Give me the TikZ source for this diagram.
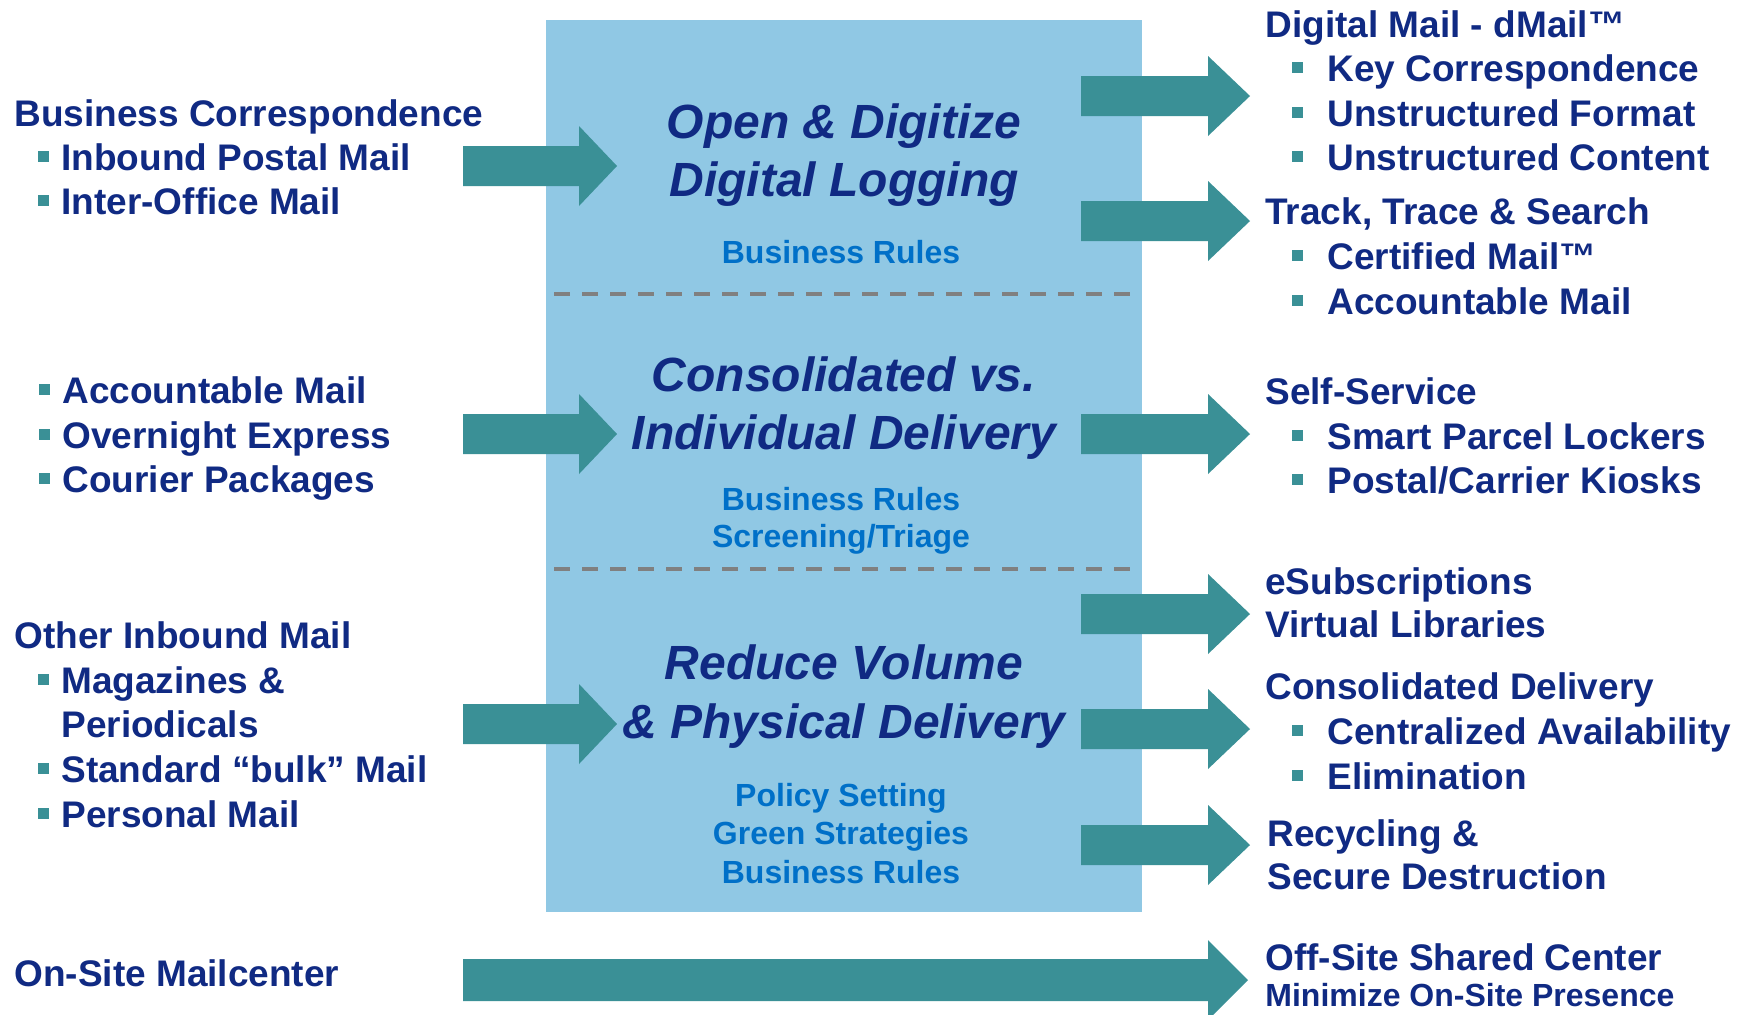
\documentclass[tikz,border=0pt]{standalone}
\usepackage{fontspec}
\setmainfont{Liberation Sans}
\definecolor{navy}{RGB}{16,42,131}
\definecolor{teal0}{RGB}{58,144,150}
\definecolor{boxblue}{RGB}{144,200,228}
\definecolor{subblue}{RGB}{0,112,200}
\definecolor{dashgray}{RGB}{128,128,128}
\newcommand\mybul[1]{\llap{\textcolor{teal0}{\rule[4pt]{5.5pt}{5.5pt}}\hspace{#1}}}
\newcommand\blockarrow[5]{% x start, x head base, x tip, y centre, body half height
  \fill[teal0] (#1,#4-#5) -- (#2,#4-#5) -- (#2,#4-40) -- (#3,#4) -- (#2,#4+40) -- (#2,#4+#5) -- (#1,#4+#5) -- cycle;}
\begin{document}
\begin{tikzpicture}[x=0.5pt,y=-0.5pt,
  lbl/.style={anchor=base west, inner sep=0pt, font=\fontsize{18.5}{22}\selectfont\bfseries, text=navy},
  lbls/.style={anchor=base west, inner sep=0pt, font=\fontsize{16}{19}\selectfont\bfseries, text=navy},
  ttl/.style={anchor=base, inner sep=0pt, font=\fontsize{24}{28}\selectfont\bfseries\itshape, text=navy},
  sub/.style={anchor=base, inner sep=0pt, font=\fontsize{16}{19}\selectfont\bfseries, text=subblue},
  sep/.style={draw=dashgray, line width=2pt, dash pattern=on 8pt off 6pt}]
\useasboundingbox[fill=white] (0,0) rectangle (1748,1014);
% central box
\fill[boxblue] (546,20) rectangle (1142,912);
\coordinate (s1a) at (554,294); \coordinate (s1b) at (1132,294);
\coordinate (s2a) at (554,569); \coordinate (s2b) at (1132,569);
\draw[sep] (s1a) -- (s1b);
\draw[sep] (s2a) -- (s2b);
% centre texts
\node[ttl] (t1a) at (844,138) {Open \& Digitize};
\node[ttl] (t1b) at (844,196) {Digital Logging};
\node[sub] (r1a) at (841,263) {Business Rules};
\node[ttl] (t2a) at (844,391) {Consolidated vs.};
\node[ttl] (t2b) at (844,449) {Individual Delivery};
\node[sub] (r2a) at (841,510) {Business Rules};
\node[sub] (r2b) at (841,547) {Screening/Triage};
\node[ttl] (t3a) at (844,679) {Reduce Volume};
\node[ttl] (t3b) at (844,738) {\& Physical Delivery};
\node[sub] (r3a) at (841,806) {Policy Setting};
\node[sub] (r3b) at (841,844) {Green Strategies};
\node[sub] (r3c) at (841,883) {Business Rules};
% arrows
\blockarrow{463}{579}{617}{166}{20}
\blockarrow{463}{579}{617}{434}{20}
\blockarrow{463}{579}{617}{724}{20}
\blockarrow{1081}{1208}{1250}{96}{20}
\blockarrow{1081}{1208}{1250}{221}{20}
\blockarrow{1081}{1208}{1250}{434}{20}
\blockarrow{1081}{1208}{1250}{614}{20}
\blockarrow{1081}{1208}{1250}{729}{20}
\blockarrow{1081}{1208}{1250}{845}{20}
\blockarrow{463}{1208}{1248}{980}{21}
% left texts
\node[lbl] (l1) at (14,126) {Business Correspondence};
\node[lbl] (l2) at (61,170) {\mybul{6pt}Inbound Postal Mail};
\node[lbl] (l3) at (61,214) {\mybul{6pt}Inter-Office Mail};
\node[lbl] (l4) at (62,403) {\mybul{6pt}Accountable Mail};
\node[lbl] (l5) at (62,448) {\mybul{6pt}Overnight Express};
\node[lbl] (l6) at (62,492) {\mybul{6pt}Courier Packages};
\node[lbl] (l7) at (14,648) {Other Inbound Mail};
\node[lbl] (l8) at (61,693) {\mybul{6pt}Magazines \&};
\node[lbl] (l9) at (61,737) {Periodicals};
\node[lbl] (l10) at (61,782) {\mybul{6pt}Standard “bulk” Mail};
\node[lbl] (l11) at (61,827) {\mybul{6pt}Personal Mail};
\node[lbl] (l12) at (14,986) {On-Site Mailcenter};
% right texts
\node[lbl] (q1) at (1265,37) {Digital Mail - dMail™};
\node[lbl] (q2) at (1327,81) {\mybul{12pt}Key Correspondence};
\node[lbl] (q3) at (1327,126) {\mybul{12pt}Unstructured Format};
\node[lbl] (q4) at (1327,170) {\mybul{12pt}Unstructured Content};
\node[lbl] (q5) at (1265,224) {Track, Trace \& Search};
\node[lbl] (q6) at (1327,269) {\mybul{12pt}Certified Mail™};
\node[lbl] (q7) at (1327,314) {\mybul{12pt}Accountable Mail};
\node[lbl] (q8) at (1265,404) {Self-Service};
\node[lbl] (q9) at (1327,449) {\mybul{12pt}Smart Parcel Lockers};
\node[lbl] (q10) at (1327,493) {\mybul{12pt}Postal/Carrier Kiosks};
\node[lbl] (q11) at (1265,594) {eSubscriptions};
\node[lbl] (q12) at (1265,637) {Virtual Libraries};
\node[lbl] (q13) at (1265,699) {Consolidated Delivery};
\node[lbl] (q14) at (1327,744) {\mybul{12pt}Centralized Availability};
\node[lbl] (q15) at (1327,789) {\mybul{12pt}Elimination};
\node[lbl] (q16) at (1267,846) {Recycling \&};
\node[lbl] (q17) at (1267,889) {Secure Destruction};
\node[lbl] (q18) at (1265,970) {Off-Site Shared Center};
\node[lbls] (q19) at (1265,1006) {Minimize On-Site Presence};
\end{tikzpicture}
\end{document}
